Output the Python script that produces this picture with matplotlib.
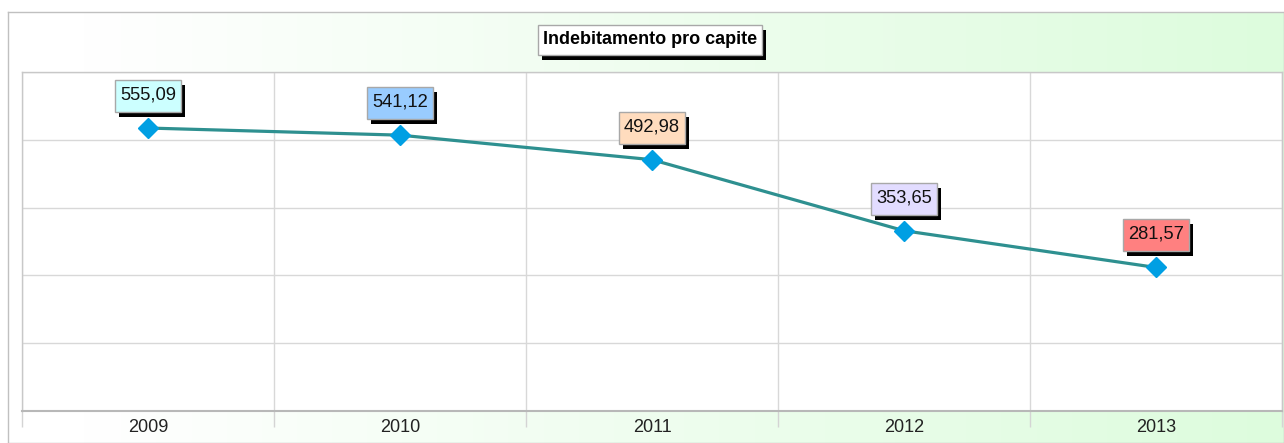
import numpy as np
import matplotlib
matplotlib.use("Agg")
import matplotlib.pyplot as plt
import matplotlib.transforms as mtransforms
from matplotlib.patches import Rectangle

years = ["2009", "2010", "2011", "2012", "2013"]
values = [555.09, 541.12, 492.98, 353.65, 281.57]
labels = ["555,09", "541,12", "492,98", "353,65", "281,57"]
label_colors = ["#ccffff", "#99ccff", "#ffdcbe", "#e2dcff", "#ff8080"]
title = "Indebitamento pro capite"

W, H = 1284, 443
fig = plt.figure(figsize=(W / 100, H / 100), dpi=100)
fig.patch.set_facecolor("white")
ident = mtransforms.IdentityTransform()

FONT = "Liberation Sans"

# background frame with horizontal gradient
bg = fig.add_axes([8 / W, 0, (W - 8) / W, (H - 12) / H], zorder=0)
g = np.clip((np.linspace(0, 1, 512) - 0.06) / 0.94, 0, 1)[None, :]
c0 = np.array([1.0, 1.0, 1.0])
c1 = np.array([0xdd, 0xfc, 0xdd]) / 255
img = c0[None, None, :] * (1 - g[..., None]) + c1[None, None, :] * g[..., None]
bg.imshow(img, aspect="auto", extent=[0, 1, 0, 1])
bg.set_xlim(0, 1)
bg.set_ylim(0, 1)
bg.set_xticks([])
bg.set_yticks([])
for s in bg.spines.values():
    s.set_color("#c0c0c0")
    s.set_linewidth(1.0)

# plot area
ax = fig.add_axes([22 / W, (H - 411) / H, 1260 / W, 339 / H], zorder=1)
ax.set_facecolor("white")
x = np.arange(len(years))
ax.set_xlim(-0.5, len(years) - 0.5)
ax.set_ylim(0, 665)
ax.set_yticks(np.linspace(0, 665, 6))
ax.set_yticklabels([])
ax.tick_params(axis="y", length=0)
ax.set_xticks(x)
ax.set_xticklabels(years, fontsize=13, family=FONT, color="#222222")
ax.tick_params(axis="x", which="major", length=0, pad=6)
ax.set_xticks(np.arange(-0.5, len(years) + 0.5, 1), minor=True)
ax.tick_params(axis="x", which="minor", length=11.5, color="#d4d4d4", width=1)
ax.grid(True, axis="y", color="#d8d8d8", lw=1)
ax.grid(True, axis="x", which="minor", color="#d8d8d8", lw=1)
for s in ax.spines.values():
    s.set_color("#c8c8c8")
    s.set_linewidth(1.0)
ax.spines["bottom"].set_color("#b8b8b8")
ax.spines["bottom"].set_linewidth(1.5)

ax.plot(x, values, color="#2e9090", lw=2.3, zorder=3)
ax.plot(x, values, ls="none", marker="D", ms=9.8, color="#009fe3", zorder=4)

# value labels: boxes with black drop shadow, placed in pixel space above each point
BW, BH, GAP = 66, 32, 16
SX, SY = 4, 5
for xi, v, lab, c in zip(x, values, labels, label_colors):
    px, py = ax.transData.transform((xi, v))
    left, bottom = px - BW / 2, py + GAP
    fig.add_artist(Rectangle((left + SX, bottom - SY), BW, BH, transform=ident,
                             fc="black", ec="black", lw=0, zorder=5))
    fig.add_artist(Rectangle((left, bottom), BW, BH, transform=ident,
                             fc=c, ec="#a8a8a8", lw=1, zorder=6))
    fig.text(px, bottom + BH / 2 + 1, lab, transform=ident, ha="center", va="center",
             fontsize=13.2, family=FONT, color="#111111", zorder=7)

# title box with shadow
TW, TH = 224, 30
tcx, tcy = 650, H - 40
fig.add_artist(Rectangle((tcx - TW / 2 + SX, tcy - TH / 2 - SY), TW, TH, transform=ident,
                         fc="black", ec="black", lw=0, zorder=5))
fig.add_artist(Rectangle((tcx - TW / 2, tcy - TH / 2), TW, TH, transform=ident,
                         fc="white", ec="#a8a8a8", lw=1, zorder=6))
fig.text(tcx, tcy + 1, title, transform=ident, ha="center", va="center", fontsize=13,
         fontweight="bold", family=FONT, color="black", zorder=7)

fig.savefig("out.png", dpi=100)
